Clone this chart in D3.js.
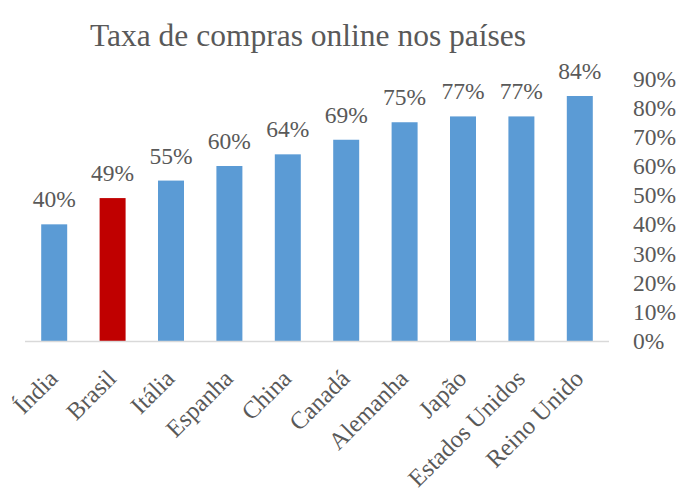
<!DOCTYPE html>
<html>
<head>
<meta charset="utf-8">
<script src="https://cdn.jsdelivr.net/npm/d3@7"></script>
<style>
  body { margin: 0; background: #fff; }
  text { font-family: "Liberation Serif", "DejaVu Serif", serif; fill: #595959; }
</style>
</head>
<body>
<div id="chart"></div>
<script>
const width = 684;
const height = 492;

// data
const countries = ["Índia", "Brasil", "Itália", "Espanha", "China", "Canadá",
                   "Alemanha", "Japão", "Estados Unidos", "Reino Unido"];
const rates = [0.40, 0.49, 0.55, 0.60, 0.64, 0.69, 0.75, 0.77, 0.77, 0.84];
const highlight = ["Brasil"];
const yTicks = [0, 0.1, 0.2, 0.3, 0.4, 0.5, 0.6, 0.7, 0.8, 0.9];

const svg = d3.select("#chart").append("svg")
    .attr("width", width)
    .attr("height", height);

const x = d3.scaleBand()
    .domain(countries)
    .range([25, 609])
    .paddingInner(0.555)
    .paddingOuter(0.2775);

const y = d3.scaleLinear()
    .domain([0, 0.9])
    .range([341, 78.5]);

const pct = d3.format(".0%");
const labelFont = "Liberation Serif, DejaVu Serif, serif";

// title
svg.append("text")
    .attr("x", 308)
    .attr("y", 46)
    .attr("text-anchor", "middle")
    .style("font-size", "31.5px")
    .text("Taxa de compras online nos países");

// right axis labels (no line, no ticks)
const yAxis = d3.axisRight(y).tickValues(yTicks).tickFormat(pct).tickSize(0).tickPadding(0);
const yg = svg.append("g")
    .attr("transform", "translate(633,0)")
    .call(yAxis);
yg.select(".domain").remove();
yg.selectAll("text")
    .style("font-size", "23.5px")
    .style("font-family", labelFont)
    .attr("fill", "#595959");

// bars
svg.selectAll("rect.bar")
    .data(countries)
    .join("rect")
    .attr("class", "bar")
    .attr("x", d => x(d))
    .attr("width", x.bandwidth())
    .attr("y", (d, i) => y(rates[i]))
    .attr("height", (d, i) => y(0) - y(rates[i]))
    .attr("fill", d => highlight.includes(d) ? "#c00000" : "#5b9bd5");

// baseline
svg.append("line")
    .attr("x1", 25).attr("x2", 609)
    .attr("y1", y(0) + 0.5).attr("y2", y(0) + 0.5)
    .attr("stroke", "#d9d9d9")
    .attr("stroke-width", 1.5);

// value labels
svg.selectAll("text.val")
    .data(countries)
    .join("text")
    .attr("class", "val")
    .attr("x", d => x(d) + x.bandwidth() / 2)
    .attr("y", (d, i) => y(rates[i]) - 17)
    .attr("text-anchor", "middle")
    .style("font-size", "23.5px")
    .text((d, i) => pct(rates[i]));

// category labels, rotated
const xAxis = d3.axisBottom(x).tickSize(0).tickPadding(0);
const xg = svg.append("g")
    .attr("transform", `translate(0,${y(0)})`)
    .call(xAxis);
xg.select(".domain").remove();
xg.selectAll("text")
    .style("font-size", "24.5px")
    .style("font-family", labelFont)
    .attr("fill", "#595959")
    .attr("text-anchor", "end")
    .attr("dy", null)
    .attr("y", 0)
    .attr("transform", "translate(5,39) rotate(-45)");
</script>
</body>
</html>
